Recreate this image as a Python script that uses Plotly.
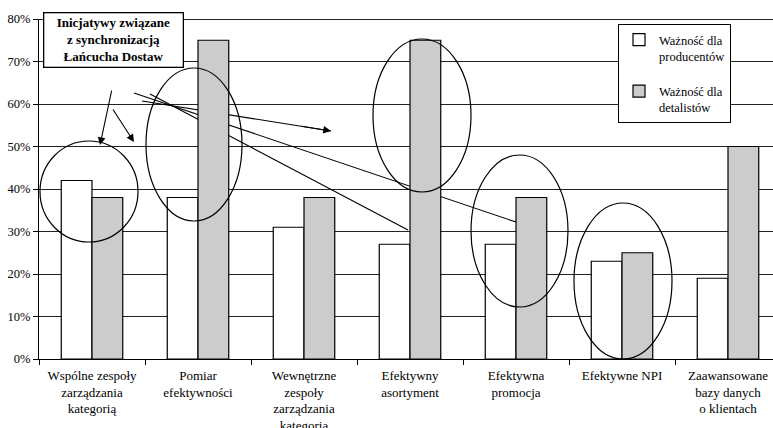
import plotly.graph_objects as go

# ---- data ----
categories = [
    "Wspólne zespoły<br>zarządzania<br>kategorią",
    "Pomiar<br>efektywności",
    "Wewnętrzne<br>zespoły<br>zarządzania<br>kategoria",
    "Efektywny<br>asortyment",
    "Efektywna<br>promocja",
    "Efektywne NPI",
    "Zaawansowane<br>bazy danych<br>o klientach",
]
producers = [42, 38, 31, 27, 27, 23, 19]
retailers = [38, 75, 38, 75, 38, 25, 50]
series_names = ["Ważność dla<br>producentów", "Ważność dla<br>detalistów"]
y_ticks = [0, 10, 20, 30, 40, 50, 60, 70, 80]
y_tick_labels = ["0%", "10%", "20%", "30%", "40%", "50%", "60%", "70%", "80%"]
callout_text = "<b>Inicjatywy związane<br>z synchronizacją<br>Łańcucha Dostaw</b>"

FONT = "Liberation Serif"
W, H = 773, 428
ML, MR, MT, MB = 39, 0, 19, 69
CAT_PX = 106.0
PLOT_W = W - ML - MR
PLOT_H = H - MT - MB
X_MAX = -0.5 + PLOT_W / CAT_PX
Y_MAX = 80


def dx(px):
    return (px - ML) / CAT_PX - 0.5


def dy(py):
    return (MT + PLOT_H - py) / PLOT_H * Y_MAX


fig = go.Figure()
fig.add_trace(go.Bar(
    x=categories, y=producers, name=series_names[0], legendgroup="a",
    marker=dict(color="white", line=dict(color="black", width=1.2)),
))
fig.add_trace(go.Bar(
    x=categories, y=retailers, name=series_names[1], legendgroup="b",
    marker=dict(color="#cccccc", line=dict(color="black", width=1.2)),
))

shapes = []
# highlight ellipses (pixel-estimated, converted to data units)
ellipses = [
    (40, 141, 138, 242),
    (146, 68, 242, 221),
    (373, 39, 471, 192),
    (471, 155, 568, 307),
    (574, 203, 672, 359),
]
for x0, y0, x1, y1 in ellipses:
    shapes.append(dict(type="circle", xref="x", yref="y",
                       x0=dx(x0), x1=dx(x1), y0=dy(y1), y1=dy(y0),
                       line=dict(color="black", width=1.2), layer="above"))
# connector lines (behind bars)
connectors = [
    (142, 101, 331, 131),
    (134, 93, 516, 222),
    (150, 94, 408, 230),
]
for x0, y0, x1, y1 in connectors:
    shapes.append(dict(type="line", xref="x", yref="y",
                       x0=dx(x0), y0=dy(y0), x1=dx(x1), y1=dy(y1),
                       line=dict(color="black", width=1.1), layer="between"))
# top border line at 80%
shapes.append(dict(type="line", xref="paper", yref="y", x0=0, x1=1, y0=Y_MAX, y1=Y_MAX,
                   line=dict(color="#222", width=2), layer="above"))

annotations = [
    dict(text=callout_text, xref="paper", yref="paper",
         x=(113 - ML) / PLOT_W, y=(MT + PLOT_H - 40) / PLOT_H,
         xanchor="center", yanchor="middle", showarrow=False,
         font=dict(family=FONT, size=13, color="black"),
         bgcolor="white", bordercolor="black", borderwidth=1.3, borderpad=0,
         width=138, height=53, align="center"),
]
arrows = [
    (112, 89, 100, 145),
    (112, 108, 134, 142),
    (300, 126, 331, 131),
]
for tx, ty, hx, hy in arrows:
    annotations.append(dict(text="", x=dx(hx), y=dy(hy), ax=dx(tx), ay=dy(ty),
                            xref="x", yref="y", axref="x", ayref="y",
                            showarrow=True, arrowhead=2, arrowsize=1.4,
                            arrowwidth=1.1, arrowcolor="black", standoff=0))

fig.update_layout(
    width=W, height=H,
    margin=dict(l=ML, r=MR, t=MT, b=MB, pad=0),
    paper_bgcolor="white", plot_bgcolor="white",
    barmode="group", bargap=0.42, bargroupgap=0,
    font=dict(family=FONT, size=12, color="black"),
    shapes=shapes, annotations=annotations,
    legend=dict(x=(618 - ML) / PLOT_W, y=(MT + PLOT_H - 24) / PLOT_H,
                xanchor="left", yanchor="top",
                bordercolor="black", borderwidth=1, bgcolor="white",
                font=dict(family=FONT, size=12.5, color="black"),
                tracegroupgap=16, valign="top", traceorder="grouped",
                itemwidth=30),
    xaxis=dict(range=[-0.5, X_MAX], showline=True, linecolor="black", linewidth=1,
               ticks="outside", tickson="boundaries", ticklen=5, tickcolor="black",
               showgrid=False, tickfont=dict(family=FONT, size=13, color="black"),
               ticklabelstandoff=4,
               fixedrange=True, automargin=False),
    yaxis=dict(range=[0, Y_MAX], tickvals=y_ticks, ticktext=y_tick_labels,
               showline=True, linecolor="black", linewidth=1,
               ticks="outside", ticklen=5, tickcolor="black",
               showgrid=True, gridcolor="#222", gridwidth=1,
               zeroline=False, automargin=False,
               tickfont=dict(family=FONT, size=12.5, color="black")),
)

fig.write_html("out.html", config={"displayModeBar": False},
               post_script="document.body.style.margin='0';")
